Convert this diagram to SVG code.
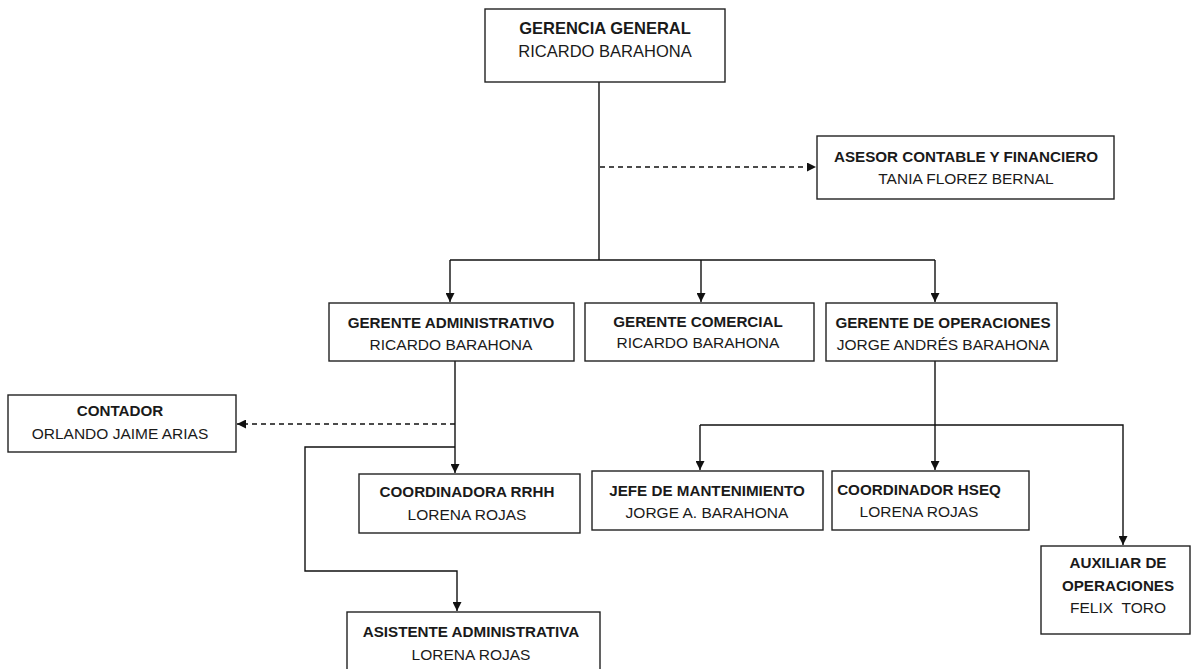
<svg xmlns="http://www.w3.org/2000/svg" width="1191" height="669" viewBox="0 0 1191 669">
<style>
.box{fill:#fff;stroke:#222;stroke-width:1.4}
.t{font-family:"Liberation Sans",Arial,sans-serif;font-size:15.5px;fill:#1a1a1a;text-anchor:middle}
.b{font-weight:bold;font-size:15.2px}
.big{font-size:16.5px}
.ln{fill:none;stroke:#111;stroke-width:1.4}
.dash{stroke-dasharray:5,4}
</style>
<defs>
<marker id="ah" viewBox="0 0 10 10" refX="10" refY="5" markerWidth="9" markerHeight="9" markerUnits="userSpaceOnUse" orient="auto">
<path d="M0,0 L10,5 L0,10 Z" fill="#111"/>
</marker>
</defs>
<rect width="1191" height="669" fill="#fff"/>
<g id="connectors">
<path class="ln" d="M599,82 V260"/>
<path class="ln dash" d="M600,167 H816" marker-end="url(#ah)"/>
<path class="ln" d="M450,260 H935"/>
<path class="ln" d="M450,260 V302" marker-end="url(#ah)"/>
<path class="ln" d="M701,260 V302" marker-end="url(#ah)"/>
<path class="ln" d="M935,260 V302" marker-end="url(#ah)"/>
<path class="ln" d="M455,361 V473" marker-end="url(#ah)"/>
<path class="ln dash" d="M455,424 H237" marker-end="url(#ah)"/>
<path class="ln" d="M455,447 H305 V571 H457 V611" marker-end="url(#ah)"/>
<path class="ln" d="M935,361 V470" marker-end="url(#ah)"/>
<path class="ln" d="M700,425 H1123 V545" marker-end="url(#ah)"/>
<path class="ln" d="M700,425 V470" marker-end="url(#ah)"/>
</g>
<g id="gerencia">
<rect class="box" x="485" y="9" width="240" height="73"/>
<text class="t b big" x="605" y="34">GERENCIA GENERAL</text>
<text class="t big" x="605" y="57">RICARDO BARAHONA</text>
</g>
<g id="asesor">
<rect class="box" x="817" y="136" width="297" height="63"/>
<text class="t b" x="966" y="162">ASESOR CONTABLE Y FINANCIERO</text>
<text class="t" x="966" y="184">TANIA FLOREZ BERNAL</text>
</g>
<g id="gerente-admin">
<rect class="box" x="329" y="303" width="245" height="58"/>
<text class="t b" x="451" y="328">GERENTE ADMINISTRATIVO</text>
<text class="t" x="451" y="350">RICARDO BARAHONA</text>
</g>
<g id="gerente-comercial">
<rect class="box" x="585" y="303" width="229" height="58"/>
<text class="t b" x="698" y="327">GERENTE COMERCIAL</text>
<text class="t" x="698" y="348">RICARDO BARAHONA</text>
</g>
<g id="gerente-operaciones">
<rect class="box" x="826" y="303" width="231" height="58"/>
<text class="t b" x="943" y="328">GERENTE DE OPERACIONES</text>
<text class="t" x="943" y="350">JORGE ANDRÉS BARAHONA</text>
</g>
<g id="contador">
<rect class="box" x="8" y="395" width="228" height="57"/>
<text class="t b" x="120" y="416">CONTADOR</text>
<text class="t" x="120" y="439">ORLANDO JAIME ARIAS</text>
</g>
<g id="coord-rrhh">
<rect class="box" x="359" y="474" width="221" height="59"/>
<text class="t b" x="467" y="497">COORDINADORA RRHH</text>
<text class="t" x="467" y="520">LORENA ROJAS</text>
</g>
<g id="jefe-mant">
<rect class="box" x="592" y="471" width="231" height="59"/>
<text class="t b" x="707" y="496">JEFE DE MANTENIMIENTO</text>
<text class="t" x="707" y="518">JORGE A. BARAHONA</text>
</g>
<g id="coord-hseq">
<rect class="box" x="832" y="471" width="197" height="59"/>
<text class="t b" x="919" y="495">COORDINADOR HSEQ</text>
<text class="t" x="919" y="517">LORENA ROJAS</text>
</g>
<g id="auxiliar">
<rect class="box" x="1041" y="546" width="149" height="88"/>
<text class="t b" x="1118" y="568">AUXILIAR DE</text>
<text class="t b" x="1118" y="591">OPERACIONES</text>
<text class="t" x="1118" y="613" style="white-space:pre" xml:space="preserve">FELIX  TORO</text>
</g>
<g id="asistente">
<rect class="box" x="347" y="612" width="253" height="62"/>
<text class="t b" x="471" y="637">ASISTENTE ADMINISTRATIVA</text>
<text class="t" x="471" y="660">LORENA ROJAS</text>
</g>
</svg>
